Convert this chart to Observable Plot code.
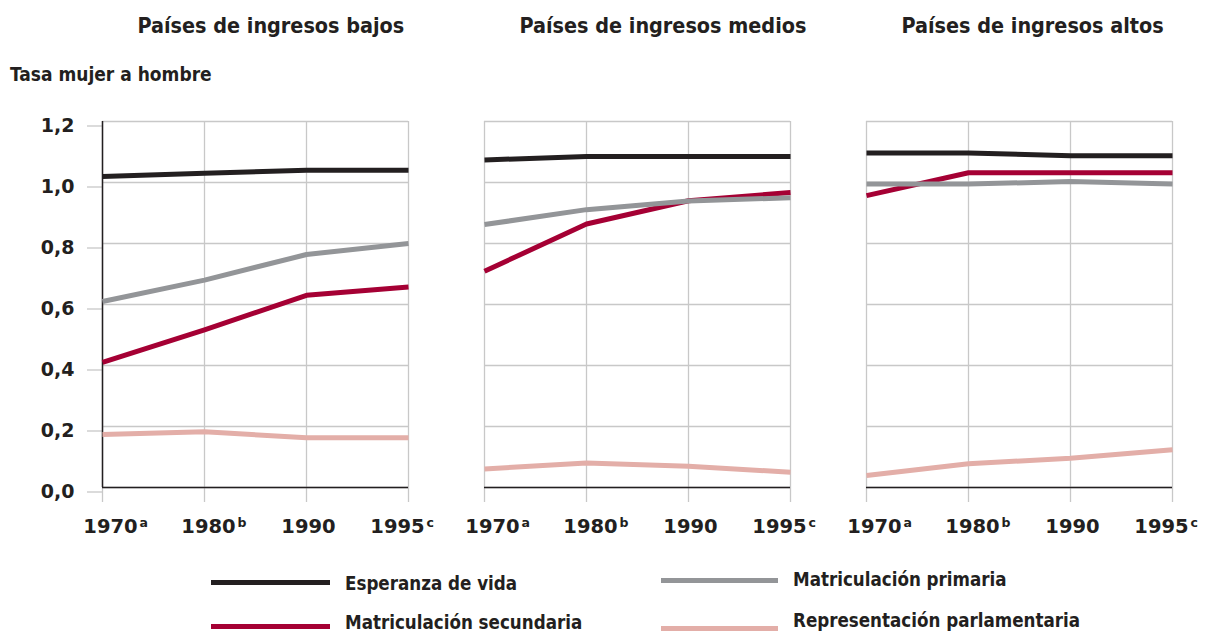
<!DOCTYPE html>
<html><head><meta charset="utf-8">
<script src="https://cdn.jsdelivr.net/npm/d3@7"></script>
<script src="https://cdn.jsdelivr.net/npm/@observablehq/plot@0.6"></script>
<style>
body{margin:0;background:#fff;}
#wrap{position:relative;width:1205px;height:633px;overflow:hidden;font-family:"Liberation Sans Narrow","DejaVu Sans Condensed",sans-serif;color:#231f20;}
#chart{position:absolute;left:0;top:0;}
.ylab{position:absolute;left:10px;top:63px;font-weight:bold;font-size:19px;line-height:22px;}
.legtx{position:absolute;font-weight:bold;font-size:18.6px;line-height:18px;height:18px;white-space:nowrap;}
.sw{position:absolute;height:5px;}
</style></head>
<body><div id="wrap"><div id="chart"></div></div>
<script>
const years = ["1970", "1980", "1990", "1995"];
const yearNotes = ["a", "b", "", "c"];
const groups = ["Países de ingresos bajos", "Países de ingresos medios", "Países de ingresos altos"];
// draw order (bottom to top)
const series = ["Representación parlamentaria", "Matriculación secundaria", "Matriculación primaria", "Esperanza de vida"];
const colors = ["#e3aea8", "#a50034", "#939598", "#231f20"];
const yTicks = [0, 0.2, 0.4, 0.6, 0.8, 1.0, 1.2];

// Países de ingresos bajos
const bajosParlamentaria = [0.174, 0.183, 0.163, 0.163];
const bajosSecundaria = [0.41, 0.517, 0.63, 0.657];
const bajosPrimaria = [0.61, 0.68, 0.764, 0.80];
const bajosEsperanza = [1.02, 1.03, 1.04, 1.04];
// Países de ingresos medios
const mediosParlamentaria = [0.061, 0.08, 0.07, 0.05];
const mediosSecundaria = [0.709, 0.864, 0.94, 0.967];
const mediosPrimaria = [0.862, 0.911, 0.939, 0.95];
const mediosEsperanza = [1.074, 1.085, 1.085, 1.085];
// Países de ingresos altos
const altosParlamentaria = [0.039, 0.078, 0.096, 0.124];
const altosSecundaria = [0.957, 1.032, 1.032, 1.032];
const altosPrimaria = [0.995, 0.995, 1.003, 0.995];
const altosEsperanza = [1.097, 1.097, 1.088, 1.088];

const legendOrder = ["Esperanza de vida", "Matriculación primaria", "Matriculación secundaria", "Representación parlamentaria"];

const table = [
  [groups[0], [bajosParlamentaria, bajosSecundaria, bajosPrimaria, bajosEsperanza]],
  [groups[1], [mediosParlamentaria, mediosSecundaria, mediosPrimaria, mediosEsperanza]],
  [groups[2], [altosParlamentaria, altosSecundaria, altosPrimaria, altosEsperanza]]
];
const data = [];
for (const [grupo, arrs] of table) {
  arrs.forEach((vals, si) => {
    vals.forEach((v, yi) => data.push({grupo, serie: series[si], year: years[yi], valor: v}));
  });
}

const numFont = "DejaVu Sans, sans-serif";
const condFont = "Liberation Sans Narrow, DejaVu Sans Condensed, sans-serif";
const gridColor = "#c8c8c8";
const ink = "#231f20";

// label nudges (layout only)
const labelDx = [8, 4, 2, -11];

const xLabelMarks = [];
years.forEach((yr, i) => {
  xLabelMarks.push(Plot.axisX([yr], {
    tickSize: 0, tickPadding: 32, dx: labelDx[i], fill: ink,
    fontFamily: numFont, fontSize: 19.5, fontWeight: "bold", label: null
  }));
  if (yearNotes[i]) {
    xLabelMarks.push(Plot.axisX([yr], {
      tickSize: 0, tickPadding: 32, dx: labelDx[i] + 29, dy: -1, textAnchor: "start", fill: ink,
      tickFormat: () => yearNotes[i],
      fontFamily: numFont, fontSize: 12.5, fontWeight: "bold", label: null
    }));
  }
});

const chart = Plot.plot({
  width: 1205,
  height: 548,
  marginTop: 121,
  marginBottom: 61,
  marginLeft: 101,
  marginRight: 33,
  style: {background: "transparent", color: ink},
  fx: {domain: groups, padding: 0.2, paddingInner: 0.2, paddingOuter: 0, axis: null},
  x: {type: "point", domain: years, padding: 0},
  y: {domain: [0, 1.2]},
  color: {domain: series, range: colors},
  marks: [
    Plot.gridY(yTicks, {stroke: gridColor, strokeOpacity: 1, strokeWidth: 1.3}),
    Plot.gridX(years, {stroke: gridColor, strokeOpacity: 1, strokeWidth: 1.3}),
    Plot.axisY(yTicks, {
      tickSize: 15, tickPadding: 13, stroke: gridColor, strokeWidth: 1.3, fill: ink,
      tickFormat: d => d.toFixed(1).replace(".", ","),
      fontFamily: numFont, fontSize: 19, fontWeight: "bold", dy: 4.5, label: null
    }),
    Plot.axisX(years, {
      tickSize: 15, stroke: gridColor, strokeWidth: 1.3, tickFormat: () => "", label: null
    }),
    ...xLabelMarks,
    Plot.text(groups, {
      fx: d => d, text: d => d, frameAnchor: "top-left", textAnchor: "start",
      dx: 35, dy: -104, fill: ink,
      fontFamily: condFont, fontSize: 21.4, fontWeight: "bold"
    }),
    Plot.ruleY([0], {stroke: ink, strokeWidth: 1.5}),
    Plot.ruleX([{grupo: groups[0], year: years[0]}], {fx: "grupo", x: "year", stroke: ink, strokeWidth: 1.5}),
    Plot.line(data, {
      fx: "grupo", x: "year", y: "valor", z: "serie", stroke: "serie",
      strokeWidth: 5, strokeLinecap: "butt", strokeLinejoin: "round"
    })
  ]
});
document.getElementById("chart").appendChild(chart);

const wrap = document.getElementById("wrap");
const ylab = document.createElement("div");
ylab.className = "ylab";
ylab.textContent = "Tasa mujer a hombre";
wrap.appendChild(ylab);

// legend layout: swatch left/width/centre-y, text left/centre-y
const legLayout = [
  {sx: 211, sw: 119, sy: 582, tx: 345, ty: 584},
  {sx: 661, sw: 117, sy: 580, tx: 793, ty: 580},
  {sx: 211, sw: 119, sy: 626, tx: 345, ty: 623},
  {sx: 661, sw: 117, sy: 628, tx: 793, ty: 621}
];
legendOrder.forEach((name, i) => {
  const L = legLayout[i];
  const sw = document.createElement("div");
  sw.className = "sw";
  sw.style.left = L.sx + "px";
  sw.style.width = L.sw + "px";
  sw.style.top = (L.sy - 2.5) + "px";
  sw.style.background = colors[series.indexOf(name)];
  const tx = document.createElement("div");
  tx.className = "legtx";
  tx.style.left = L.tx + "px";
  tx.style.top = (L.ty - 9) + "px";
  tx.textContent = name;
  wrap.appendChild(sw);
  wrap.appendChild(tx);
});
</script>
</body></html>
